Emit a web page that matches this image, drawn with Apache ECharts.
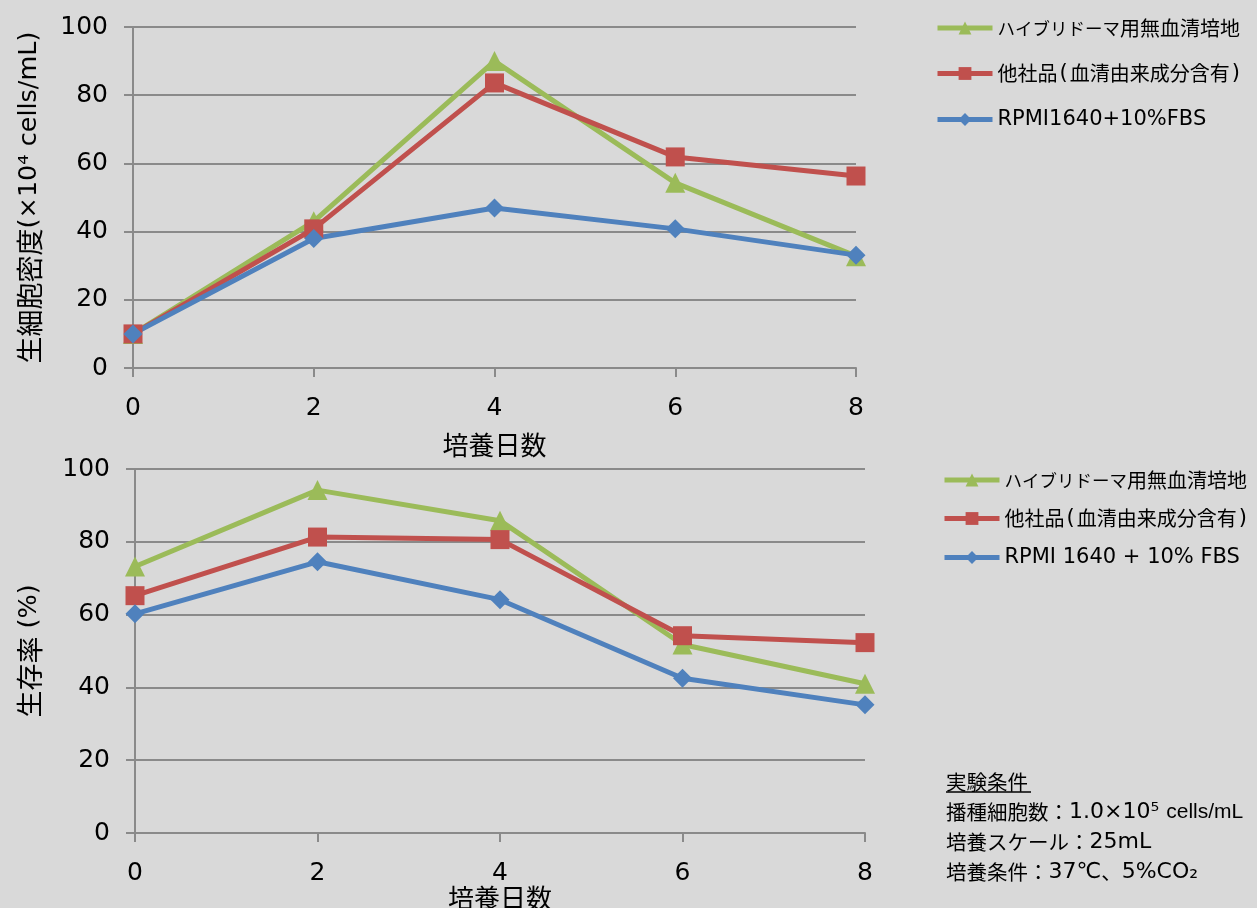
<!DOCTYPE html>
<html>
<head>
<meta charset="utf-8">
<script src="https://cdn.jsdelivr.net/npm/echarts@6/dist/echarts.min.js"></script>
<style>
html,body{margin:0;padding:0;background:#d9d9d9;}
#chart{width:1257px;height:908px;}
</style>
</head>
<body>
<div id="chart"></div>
<script>
// ---- data ----
const days = [0, 2, 4, 6, 8];
const seriesNamesTop = ['ハイブリドーマ用無血清培地', '他社品(血清由来成分含有)', 'RPMI1640+10%FBS'];
const seriesNamesBottom = ['ハイブリドーマ用無血清培地', '他社品(血清由来成分含有)', 'RPMI 1640 + 10% FBS'];
const hybridomaDensity = [10, 43, 90, 54.3, 32.8];
const competitorDensity = [10, 40.8, 83.6, 61.9, 56.3];
const rpmiDensity = [10, 38, 46.9, 40.8, 33.1];
const hybridomaViability = [73.2, 94.2, 85.8, 51.8, 41];
const competitorViability = [65.2, 81.3, 80.6, 54.2, 52.3];
const rpmiViability = [60.2, 74.5, 64.1, 42.5, 35.2];
const yTicks = [0, 20, 40, 60, 80, 100];
const xTicks = [0, 2, 4, 6, 8];
const xAxisTitle = '培養日数';
const yTitleTop = '生細胞密度(×10⁴ cells/mL)';
const yTitleBottom = '生存率 (%)';
const conditionLines = ['実験条件', '播種細胞数：1.0×10⁵ cells/mL', '培養スケール：25mL', '培養条件：37℃、5%CO₂'];

// ---- style ----
const LATIN = "'DejaVu Sans', 'Noto Sans CJK JP', sans-serif";
const CJK = "'Noto Sans CJK JP', sans-serif";
const colors = ['#9bbb59', '#c0504d', '#4f81bd'];
const symbols = ['triangle', 'rect', 'diamond'];
const symbolSizes = [20, 19, 19];
const gridColor = '#8a8a8a';

const CJK_RE = /[\u3000-\u9fff\uff00-\uffef]/;
// wrap text runs into rich-text tags: c = kanji, k = kana, p = parens, n = "cells/mL", l = other latin
function richify(s, useKana) {
  let out = '';
  let cur = '', curTag = null;
  const flush = () => { if (cur) out += '{' + curTag + '|' + cur + '}'; cur = ''; };
  const chars = Array.from(s.replace(/[{}|]/g, ''));
  let i = 0;
  while (i < chars.length) {
    const rest = chars.slice(i).join('');
    if (rest.startsWith('cells/mL')) { flush(); curTag = 'n'; cur = 'cells/mL'; flush(); i += 8; continue; }
    const ch = chars[i];
    let tag;
    if (useKana && /[\u30a0-\u30ff]/.test(ch)) tag = 'k';
    else if (CJK_RE.test(ch)) tag = 'c';
    else if (useKana && (ch === '(' || ch === ')')) tag = 'p';
    else tag = 'l';
    if (tag !== curTag) { flush(); curTag = tag; }
    cur += ch;
    i++;
  }
  flush();
  return out;
}

function pair(arr) { return days.map((d, i) => [d, arr[i]]); }

function xAxisCfg(gridIndex, gap, moveOverlap) {
  return {
    type: 'value', gridIndex, min: xTicks[0], max: xTicks[xTicks.length - 1], interval: 2,
    name: xAxisTitle, nameLocation: 'middle', nameGap: gap, nameMoveOverlap: moveOverlap,
    nameTextStyle: { fontFamily: CJK, fontSize: 26, color: '#000' },
    axisLine: { show: true, lineStyle: { color: gridColor, width: 2 } },
    axisTick: { show: true, length: 9, lineStyle: { color: gridColor, width: 2 } },
    axisLabel: { fontFamily: LATIN, fontSize: 25, color: '#000', margin: 28 },
    splitLine: { show: false }
  };
}
function yAxisCfg(gridIndex, name, gap) {
  return {
    type: 'value', gridIndex, min: yTicks[0], max: yTicks[yTicks.length - 1], interval: 20,
    name: richify(name, false), nameLocation: 'middle', nameGap: gap, nameRotate: 90,
    nameTextStyle: {
      fontFamily: LATIN, fontSize: 25, color: '#000',
      rich: {
        c: { fontFamily: CJK, fontSize: 27, color: '#000' },
        l: { fontFamily: LATIN, fontSize: 25.5, color: '#000' },
        n: { fontFamily: LATIN, fontSize: 25.5, color: '#000' }
      }
    },
    axisLine: { show: true, lineStyle: { color: gridColor, width: 2 } },
    axisTick: { show: true, length: 9, lineStyle: { color: gridColor, width: 2 } },
    axisLabel: { fontFamily: LATIN, fontSize: 25, color: '#000', margin: 25 },
    splitLine: { show: true, lineStyle: { color: gridColor, width: 2 } }
  };
}
function lineSeries(name, data, k, idx) {
  return {
    type: 'line', name, data: pair(data), xAxisIndex: idx, yAxisIndex: idx,
    symbol: symbols[k], symbolSize: symbolSizes[k], showAllSymbol: true,
    itemStyle: { color: colors[k] },
    lineStyle: { color: colors[k], width: 5 },
    emphasis: { disabled: true }, animation: false
  };
}
const legendRich = {
  c: { fontFamily: CJK, fontSize: 20, color: '#000', lineHeight: 22 },
  k: { fontFamily: CJK, fontSize: 17.5, color: '#000', lineHeight: 22 },
  p: { fontFamily: LATIN, fontSize: 21, color: '#000', lineHeight: 22, padding: [0, 2, 0, 2] },
  l: { fontFamily: LATIN, fontSize: 21, color: '#000', lineHeight: 22 },
  n: { fontFamily: LATIN, fontSize: 21, color: '#000', lineHeight: 22 }
};
function legendCfg(names, left, top, gap) {
  return {
    data: names, orient: 'vertical', left, top, padding: 0,
    itemWidth: 55, itemHeight: 16, itemGap: gap,
    lineStyle: { width: 5 },
    formatter: n => richify(n, true),
    textStyle: { fontFamily: LATIN, fontSize: 21, color: '#000', rich: legendRich },
    selectedMode: false
  };
}

const chart = echarts.init(document.getElementById('chart'));
const option = {
  backgroundColor: '#d9d9d9',
  animation: false,
  grid: [
    { left: 133, right: 401, top: 27, bottom: 540, outerBoundsMode: 'none' },
    { left: 135, right: 392, top: 469, bottom: 75, outerBoundsMode: 'none' }
  ],
  xAxis: [xAxisCfg(0, 64, true), xAxisCfg(1, 52, false)],
  yAxis: [yAxisCfg(0, yTitleTop, 90), yAxisCfg(1, yTitleBottom, 92)],
  legend: [
    legendCfg(seriesNamesTop, 935, 18, 25),
    legendCfg(seriesNamesBottom, 942, 470, 18)
  ],
  graphic: [
    {
      type: 'text', left: 946, top: 767,
      style: {
        text: conditionLines.map(s => richify(s, false)).join('\n'),
        fontFamily: LATIN, fontSize: 22, lineHeight: 30, fill: '#000',
        rich: {
          c: { fontFamily: CJK, fontSize: 20.5, lineHeight: 30, fill: '#000' },
          l: { fontFamily: LATIN, fontSize: 22, lineHeight: 30, fill: '#000' },
          n: { fontFamily: "'Liberation Sans', sans-serif", fontSize: 21, lineHeight: 30, fill: '#000' }
        }
      }
    },
    { type: 'line', shape: { x1: 946, y1: 792, x2: 1031, y2: 792 }, style: { stroke: '#000', lineWidth: 1.3 } }
  ],
  series: [
    lineSeries(seriesNamesTop[0], hybridomaDensity, 0, 0),
    lineSeries(seriesNamesTop[1], competitorDensity, 1, 0),
    lineSeries(seriesNamesTop[2], rpmiDensity, 2, 0),
    lineSeries(seriesNamesBottom[0], hybridomaViability, 0, 1),
    lineSeries(seriesNamesBottom[1], competitorViability, 1, 1),
    lineSeries(seriesNamesBottom[2], rpmiViability, 2, 1)
  ]
};
chart.setOption(option);
</script>
</body>
</html>
